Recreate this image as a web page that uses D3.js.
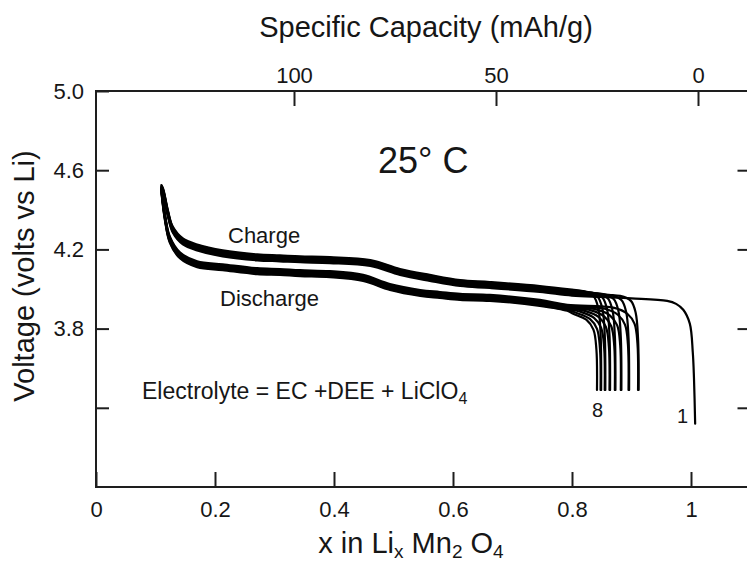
<!DOCTYPE html>
<html>
<head>
<meta charset="utf-8">
<script src="https://cdn.jsdelivr.net/npm/d3@7"></script>
<style>
  html, body { margin: 0; padding: 0; background: #fff; }
  svg { display: block; }
  text { font-family: "Liberation Sans", Arial, Helvetica, sans-serif; fill: #161616; }
</style>
</head>
<body>
<script>
// ---------------- data ----------------
// common (band-centre) charge curve, x in LixMn2O4 vs voltage
const chargeX = [0.110, 0.113, 0.121, 0.129, 0.146, 0.170, 0.213, 0.271, 0.309, 0.343, 0.393, 0.461, 0.511, 0.561, 0.612, 0.662, 0.746, 0.800];
const chargeV = [4.51, 4.49, 4.38, 4.30, 4.24, 4.21, 4.18, 4.16, 4.155, 4.15, 4.146, 4.131, 4.086, 4.056, 4.03, 4.02, 4.00, 3.982];
// common (band-centre) discharge curve
const dischargeX = [0.110, 0.116, 0.124, 0.141, 0.170, 0.213, 0.271, 0.309, 0.343, 0.393, 0.449, 0.494, 0.545, 0.578, 0.612, 0.662, 0.746, 0.792];
const dischargeV = [4.50, 4.36, 4.25, 4.17, 4.125, 4.11, 4.09, 4.086, 4.08, 4.075, 4.056, 4.01, 3.98, 3.97, 3.96, 3.955, 3.93, 3.905];
// first charge (cycle 1) starting from LiMn2O4
const firstChargeX = [1.007, 1.005, 1.003, 0.998, 0.987, 0.975, 0.960, 0.900, 0.850];
const firstChargeV = [3.32, 3.55, 3.68, 3.84, 3.91, 3.94, 3.955, 3.968, 3.975];
// cycles 1..8
const cycles = [1, 2, 3, 4, 5, 6, 7, 8];
const dischargeEnd = [0.911, 0.895, 0.882, 0.872, 0.863, 0.855, 0.848, 0.842];
const chargeShift = [-0.015, -0.010, -0.006, -0.001, 0.003, 0.007, 0.011, 0.015];
const dischargeShift = [0.015, 0.010, 0.006, 0.002, -0.002, -0.006, -0.011, -0.015];
// knee shapes at the low-voltage end (offset from the end x, voltage)
const dischargeTailDx = [-0.040, -0.018, -0.006, -0.001, 0.000];
const dischargeTailV = [3.89, 3.86, 3.81, 3.71, 3.49];
const chargeTailDx = [0.001, 0.000, -0.004, -0.012, -0.030];
const chargeTailV = [3.49, 3.76, 3.89, 3.95, 3.975];
// axes
const voltTicks = [5.0, 4.6, 4.2, 3.8, 3.4];
const voltLabels = ["5.0", "4.6", "4.2", "3.8", ""];
const xTicks = [0, 0.2, 0.4, 0.6, 0.8, 1];
const xTickLabels = ["0", "0.2", "0.4", "0.6", "0.8", "1"];
const capTicks = [100, 50, 0];

// ---------------- drawing ----------------
const W = 747, H = 564;
const svg = d3.select("body").append("svg").attr("width", W).attr("height", H);

const x = d3.scaleLinear().domain([0, 1.1]).range([96, 750.5]);
const y = d3.scaleLinear().domain([3.0, 5.0]).range([487, 91]);
const cap = d3.scaleLinear().domain([0, 100]).range([698, 294]);

const axisColor = "#1e1e1e";

// frame
const frame = svg.append("g").attr("stroke", axisColor).attr("stroke-width", 2).attr("fill", "none");
frame.append("line").attr("x1", x(0)).attr("x2", x(0)).attr("y1", y(5)).attr("y2", y(3));
frame.append("line").attr("x1", x(0) - 1).attr("x2", x(1.1)).attr("y1", y(5)).attr("y2", y(5));
frame.append("line").attr("x1", x(0) - 1).attr("x2", x(1.1)).attr("y1", y(3)).attr("y2", y(3));
frame.append("line").attr("x1", x(1.1)).attr("x2", x(1.1)).attr("y1", y(5)).attr("y2", y(3));

function styleAxis(g) {
  g.select(".domain").remove();
  g.selectAll(".tick line").attr("stroke", axisColor).attr("stroke-width", 2);
  g.selectAll(".tick text").attr("fill", "#161616").style("font-size", "22px")
    .style("font-family", '"Liberation Sans", Arial, sans-serif');
}

svg.append("g").attr("transform", `translate(${x(0)},0)`)
  .call(d3.axisLeft(y).tickValues(voltTicks).tickSize(-13).tickPadding(12)
    .tickFormat((d, i) => voltLabels[i]))
  .call(styleAxis);

svg.append("g").attr("transform", `translate(${x(1.1)},0)`)
  .call(d3.axisRight(y).tickValues(voltTicks.slice(1)).tickSize(-13).tickFormat(""))
  .call(styleAxis);

svg.append("g").attr("transform", `translate(0,${y(3)})`)
  .call(d3.axisBottom(x).tickValues(xTicks).tickSize(-15).tickPadding(14)
    .tickFormat((d, i) => xTickLabels[i]))
  .call(styleAxis);

svg.append("g").attr("transform", `translate(0,${y(5)})`)
  .call(d3.axisTop(cap).tickValues(capTicks).tickSize(-15).tickPadding(8))
  .call(styleAxis);

// curves
const line = d3.line().x(d => x(d[0])).y(d => y(d[1])).curve(d3.curveCatmullRom.alpha(0.5));
const curves = svg.append("g").attr("fill", "none").attr("stroke", "#000")
  .attr("stroke-width", 2.2).attr("stroke-linejoin", "round").attr("stroke-linecap", "round");

cycles.forEach((c, i) => {
  // discharge: from 4.5 V at low x down to the cut-off at the end x
  const e = dischargeEnd[i];
  const ds = dischargeShift[i];
  const dPts = [];
  dischargeX.forEach((dx, k) => { if (dx < e + dischargeTailDx[0] - 0.005) dPts.push([dx, dischargeV[k] + ds]); });
  dischargeTailDx.forEach((t, k) => {
    dPts.push([e + t, dischargeTailV[k] + (k < dischargeTailDx.length - 1 ? ds : 0)]);
  });
  curves.append("path").attr("class", "discharge").attr("d", line(dPts));

  // charge: from the end of the previous discharge (or from x≈1 on cycle 1) up to 4.5 V
  const cs = chargeShift[i];
  const cPts = [];
  let joinX;
  if (i === 0) {
    firstChargeX.forEach((fx, k) => cPts.push([fx, firstChargeV[k] + (k > 2 ? cs : 0)]));
    joinX = firstChargeX[firstChargeX.length - 1];
  } else {
    const s = dischargeEnd[i - 1];
    chargeTailDx.forEach((t, k) => cPts.push([s + t, chargeTailV[k] + (k > 0 ? cs : 0)]));
    joinX = s + chargeTailDx[chargeTailDx.length - 1];
  }
  for (let k = chargeX.length - 1; k >= 0; k--) {
    if (chargeX[k] < joinX - 0.005) cPts.push([chargeX[k], chargeV[k] + cs]);
  }
  curves.append("path").attr("class", "charge").attr("d", line(cPts));
});

// titles
svg.append("text").attr("x", 426).attr("y", 37).attr("text-anchor", "middle")
  .style("font-size", "29px").text("Specific Capacity (mAh/g)");

svg.append("text").attr("transform", "translate(34,276) rotate(-90)").attr("text-anchor", "middle")
  .style("font-size", "29px").text("Voltage (volts vs Li)");

const xt = svg.append("text").attr("x", 411).attr("y", 553).attr("text-anchor", "middle")
  .style("font-size", "29px");
xt.append("tspan").text("x in Li");
xt.append("tspan").attr("dy", 5).style("font-size", "19px").text("x");
xt.append("tspan").attr("dy", -5).text(" Mn");
xt.append("tspan").attr("dy", 5).style("font-size", "19px").text("2");
xt.append("tspan").attr("dy", -5).text(" O");
xt.append("tspan").attr("dy", 5).style("font-size", "19px").text("4");

// annotations
svg.append("text").attr("x", 378).attr("y", 173).style("font-size", "36px").text("25° C");
svg.append("text").attr("x", 228).attr("y", 243).style("font-size", "22px").text("Charge");
svg.append("text").attr("x", 220).attr("y", 306).style("font-size", "22px").text("Discharge");
const el = svg.append("text").attr("x", 142).attr("y", 399).style("font-size", "23px");
el.append("tspan").text("Electrolyte = EC +DEE + LiClO");
el.append("tspan").attr("dy", 5).style("font-size", "16px").text("4");
svg.append("text").attr("x", 592).attr("y", 417).style("font-size", "20px").text("8");
svg.append("text").attr("x", 677).attr("y", 423).style("font-size", "20px").text("1");
</script>
</body>
</html>
